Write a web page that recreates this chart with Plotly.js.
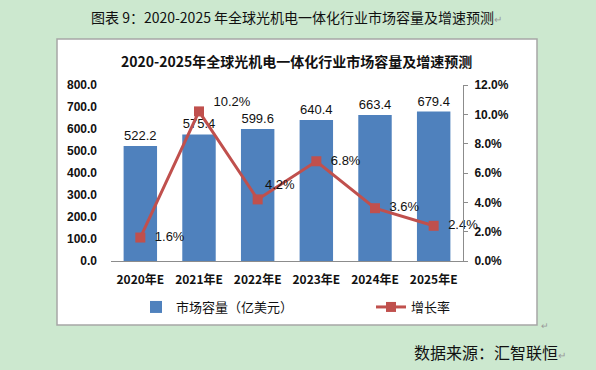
<!DOCTYPE html>
<html>
<head>
<meta charset="utf-8">
<script src="https://cdn.plot.ly/plotly-3.0.1.min.js"></script>
<style>
html,body{margin:0;padding:0;background:#cce8cf;}
#chart{width:596px;height:370px;}
</style>
</head>
<body>
<div id="chart"></div>
<script>
const categories = ["2020年E","2021年E","2022年E","2023年E","2024年E","2025年E"];
const marketSize = [522.2, 575.4, 599.6, 640.4, 663.4, 679.4];
const growthRate = [1.6, 10.2, 4.2, 6.8, 3.6, 2.4];
const leftTicks = [0,100,200,300,400,500,600,700,800];
const rightTicks = [0,2,4,6,8,10,12];
const seriesNames = ["市场容量（亿美元）","增长率"];

const W = 596, H = 370;
const L = 111, R = 133, T = 85, B = 109;
const pw = W - L - R, ph = H - T - B;
const px = x => (x - L) / pw;
const py = y => (H - B - y) / ph;

const numFont = "Liberation Sans, Noto Sans CJK SC, sans-serif";
const cjkFont = "Noto Sans CJK SC, sans-serif";
const NB = "\u00a0";

const lineLabelPos = ["middle right","middle right","top right","middle right","middle right","middle right"];
const lineLabels = growthRate.map((v, i) => {
  const s = v.toFixed(1) + "%";
  if (i === 1) return NB + NB + s + "<br>" + NB;
  if (lineLabelPos[i] === "top right") return s;
  return NB + NB + s;
});

const bars = {
  type: "bar",
  x: categories,
  y: marketSize,
  name: seriesNames[0],
  marker: {color: "#4f81bd"},
  text: marketSize.map(v => v.toFixed(1)),
  textposition: "outside",
  constraintext: "none",
  cliponaxis: false,
  textfont: {family: numFont, size: 13, color: "#111"},
  hoverinfo: "skip",
  legend: "legend"
};
const line = {
  type: "scatter",
  mode: "lines+markers+text",
  x: categories,
  y: growthRate,
  yaxis: "y2",
  name: seriesNames[1],
  line: {color: "#c0504d", width: 3},
  marker: {color: "#c0504d", symbol: "square", size: 10},
  text: lineLabels,
  textposition: lineLabelPos,
  textfont: {family: numFont, size: 13, color: "#111"},
  cliponaxis: false,
  hoverinfo: "skip",
  legend: "legend2"
};

const layout = {
  width: W, height: H,
  margin: {l: L, r: R, t: T, b: B, pad: 0},
  paper_bgcolor: "#cce8cf",
  plot_bgcolor: "rgba(0,0,0,0)",
  bargap: 0.43,
  showlegend: true,
  xaxis: {
    showgrid: false, zeroline: false,
    showline: true, linecolor: "#8c8c8c", linewidth: 1,
    ticks: "", ticklabelstandoff: 8,
    tickfont: {family: cjkFont, size: 12, color: "#111", weight: "bold"}
  },
  yaxis: {
    range: [0, 800], tickvals: leftTicks,
    ticktext: leftTicks.map(v => v.toFixed(1)),
    showgrid: false, zeroline: false, showline: false,
    ticks: "", ticklabelstandoff: 13,
    tickfont: {family: numFont, size: 12, color: "#111", weight: "bold"}
  },
  yaxis2: {
    overlaying: "y", side: "right",
    range: [0, 12], tickvals: rightTicks,
    ticktext: rightTicks.map(v => v.toFixed(1) + "%"),
    showgrid: false, zeroline: false,
    showline: true, linecolor: "#8c8c8c", linewidth: 1,
    ticks: "outside", ticklen: 4, tickcolor: "#8c8c8c",
    ticklabelstandoff: 4,
    tickfont: {family: numFont, size: 12, color: "#111", weight: "bold"}
  },
  legend: {
    orientation: "h", x: px(136), xanchor: "left", y: py(307), yanchor: "middle",
    bgcolor: "rgba(0,0,0,0)", font: {family: cjkFont, size: 13, color: "#111"}
  },
  legend2: {
    orientation: "h", x: px(371), xanchor: "left", y: py(307), yanchor: "middle",
    bgcolor: "rgba(0,0,0,0)", font: {family: cjkFont, size: 13, color: "#111"}
  },
  shapes: [{
    type: "rect", xref: "paper", yref: "paper", layer: "below",
    x0: px(57), x1: px(537), y0: py(325), y1: py(39),
    fillcolor: "#ffffff", line: {color: "#a6a6a6", width: 1.5}
  }],
  annotations: [
    {
      xref: "paper", yref: "paper", x: px(296), y: py(17), xanchor: "center", yanchor: "middle",
      showarrow: false,
      text: "图表 9：2020-2025 年全球光机电一体化行业市场容量及增速预测<span style='color:#999;font-size:10px'>↵</span>",
      font: {family: cjkFont, size: 14, color: "#111"}
    },
    {
      xref: "paper", yref: "paper", x: px(296), y: py(61), xanchor: "center", yanchor: "middle",
      showarrow: false,
      text: "<b>2020-2025年全球光机电一体化行业市场容量及增速预测</b>",
      font: {family: cjkFont, size: 14, color: "#111"}
    },
    {
      xref: "paper", yref: "paper", x: px(412), y: py(352), xanchor: "left", yanchor: "middle",
      showarrow: false,
      text: "数据来源：汇智联恒<span style='color:#999;font-size:10px'>↵</span>",
      font: {family: cjkFont, size: 16, color: "#111"}
    },
    {
      xref: "paper", yref: "paper", x: px(539), y: py(325), xanchor: "left", yanchor: "middle",
      showarrow: false,
      text: "↵",
      font: {family: cjkFont, size: 9, color: "#999"}
    }
  ]
};

Plotly.newPlot("chart", [bars, line], layout, {displayModeBar: false, staticPlot: true});
</script>
</body>
</html>
